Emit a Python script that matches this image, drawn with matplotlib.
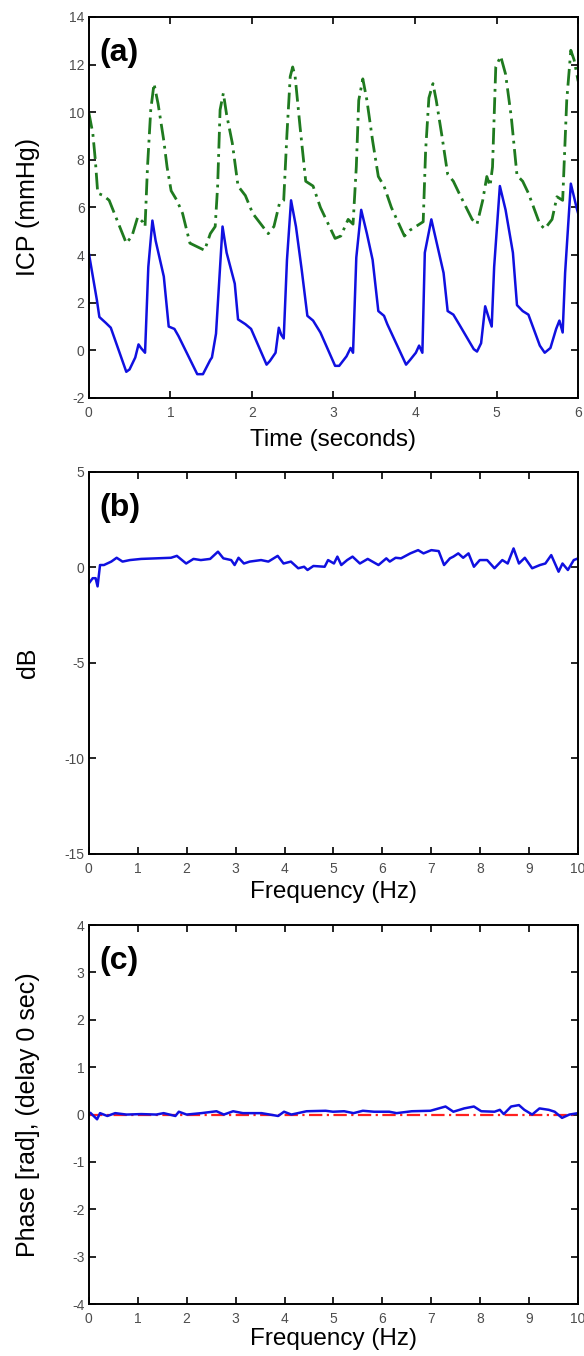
import matplotlib
matplotlib.use("Agg")
import matplotlib.pyplot as plt

OUTPUT_PATH = "out.png"

# (a) ICP waveforms
icp_t = [0.00, 0.10, 0.13, 0.21, 0.27, 0.46, 0.50, 0.57, 0.61, 0.64, 0.69, 0.73, 0.78, 0.82, 0.92,
         0.98, 1.05, 1.10, 1.33, 1.40, 1.49, 1.51, 1.56, 1.64, 1.69, 1.79, 1.83, 1.92, 1.99, 2.18,
         2.22, 2.29, 2.33, 2.36, 2.39, 2.43, 2.48, 2.54, 2.61, 2.68, 2.75, 2.84, 3.02, 3.07, 3.16,
         3.21, 3.24, 3.28, 3.34, 3.41, 3.48, 3.55, 3.62, 3.66, 3.89, 3.94, 4.01, 4.05, 4.09, 4.12,
         4.20, 4.26, 4.35, 4.40, 4.47, 4.54, 4.72, 4.76, 4.81, 4.86, 4.91, 4.94, 4.97, 5.04, 5.11,
         5.20, 5.25, 5.32, 5.39, 5.53, 5.59, 5.66, 5.73, 5.77, 5.81, 5.84, 5.91, 5.98, 6.00]
icp_blue = [4.1, 2.1, 1.4, 1.15, 0.95, -0.9, -0.8, -0.3, 0.25, 0.1, -0.1, 3.5, 5.45, 4.6, 3.1,
            1.0, 0.9, 0.6, -1.0, -1.0, -0.4, -0.3, 0.7, 5.2, 4.1, 2.8, 1.3, 1.1, 0.9, -0.6,
            -0.45, -0.1, 0.95, 0.65, 0.5, 3.8, 6.3, 5.2, 3.4, 1.45, 1.25, 0.75, -0.65, -0.65, -0.25,
            0.1, -0.1, 3.9, 5.9, 4.9, 3.8, 1.65, 1.45, 1.1, -0.6, -0.4, -0.1, 0.2, -0.1, 4.1,
            5.5, 4.6, 3.25, 1.65, 1.5, 1.1, 0.05, -0.05, 0.3, 1.85, 1.3, 1.0, 3.5, 6.9, 5.9,
            4.1, 1.9, 1.65, 1.5, 0.2, -0.1, 0.1, 0.9, 1.25, 0.75, 3.25, 7.0, 6.0, 5.75]

icp_t2 = [0.00, 0.05, 0.08, 0.11, 0.18, 0.25, 0.46, 0.53, 0.60, 0.66, 0.69, 0.72, 0.76, 0.80, 0.85,
          0.92, 0.96, 1.01, 1.08, 1.15, 1.24, 1.42, 1.49, 1.55, 1.58, 1.61, 1.65, 1.69, 1.76, 1.83,
          1.92, 2.01, 2.20, 2.27, 2.34, 2.39, 2.43, 2.47, 2.50, 2.53, 2.59, 2.66, 2.75, 2.84, 3.02,
          3.09, 3.18, 3.24, 3.28, 3.31, 3.36, 3.41, 3.48, 3.55, 3.62, 3.71, 3.87, 3.94, 4.01, 4.10,
          4.13, 4.17, 4.22, 4.26, 4.33, 4.40, 4.47, 4.54, 4.70, 4.76, 4.83, 4.88, 4.92, 4.95, 4.99,
          5.05, 5.11, 5.18, 5.25, 5.32, 5.39, 5.53, 5.59, 5.68, 5.74, 5.81, 5.86, 5.91, 5.95, 6.00]
icp_green = [10.0, 9.1, 8.0, 6.6, 6.5, 6.3, 4.5, 4.8, 5.6, 5.4, 5.2, 7.7, 10.1, 11.2, 10.35,
             8.8, 7.7, 6.7, 6.3, 5.75, 4.5, 4.2, 4.9, 5.2, 6.9, 10.1, 10.8, 9.9, 8.7, 6.9,
             6.5, 5.75, 4.9, 5.2, 6.2, 6.3, 9.1, 11.5, 11.9, 11.5, 9.4, 7.1, 6.9, 6.0, 4.7,
             4.8, 5.5, 5.3, 7.7, 10.5, 11.4, 10.5, 8.8, 7.3, 6.9, 6.0, 4.8, 5.05, 5.2, 5.4,
             8.4, 10.6, 11.2, 10.5, 9.0, 7.4, 7.1, 6.6, 5.5, 5.3, 6.3, 7.3, 6.9, 7.7, 11.9,
             12.35, 11.6, 9.8, 7.35, 7.1, 6.6, 5.3, 5.1, 5.5, 6.45, 6.3, 10.5, 12.6, 12.2, 11.3]

# (b) gain in dB
gain_f = [0.00, 0.08, 0.14, 0.18, 0.23, 0.31, 0.46, 0.57, 0.69, 0.84, 1.07, 1.38, 1.68, 1.80, 1.99,
          2.14, 2.29, 2.48, 2.64, 2.75, 2.91, 2.98, 3.06, 3.17, 3.29, 3.52, 3.67, 3.86, 3.98, 4.13,
          4.28, 4.40, 4.47, 4.59, 4.82, 4.89, 5.01, 5.08, 5.16, 5.28, 5.39, 5.54, 5.70, 5.92, 6.08,
          6.15, 6.27, 6.38, 6.57, 6.73, 6.84, 7.00, 7.15, 7.26, 7.38, 7.45, 7.55, 7.65, 7.76, 7.87,
          7.99, 8.14, 8.29, 8.45, 8.56, 8.68, 8.79, 8.91, 9.06, 9.22, 9.33, 9.45, 9.60, 9.68, 9.79,
          9.91, 10.00]
gain_db = [-0.85, -0.57, -0.57, -1.0, 0.12, 0.12, 0.3, 0.5, 0.3, 0.38, 0.44, 0.47, 0.5, 0.6, 0.2,
           0.44, 0.38, 0.44, 0.82, 0.47, 0.38, 0.12, 0.5, 0.2, 0.3, 0.38, 0.3, 0.6, 0.2, 0.3,
           -0.05, 0.03, -0.14, 0.07, 0.03, 0.38, 0.2, 0.56, 0.12, 0.38, 0.56, 0.2, 0.44, 0.12, 0.47,
           0.3, 0.5, 0.47, 0.73, 0.9, 0.73, 0.9, 0.85, 0.12, 0.47, 0.56, 0.73, 0.5, 0.73, 0.03,
           0.38, 0.38, -0.05, 0.38, 0.2, 0.99, 0.2, 0.5, -0.05, 0.12, 0.2, 0.64, -0.23, 0.2, -0.14,
           0.38, 0.47]

# (c) phase in rad
phase_f = [0.04, 0.17, 0.23, 0.38, 0.54, 0.77, 1.07, 1.38, 1.53, 1.77, 1.84, 2.00, 2.30, 2.61, 2.76,
           2.95, 3.15, 3.53, 3.87, 3.99, 4.14, 4.45, 4.84, 4.99, 5.22, 5.41, 5.60, 5.83, 6.14, 6.29,
           6.60, 6.98, 7.29, 7.45, 7.67, 7.87, 8.02, 8.29, 8.40, 8.48, 8.63, 8.79, 8.90, 9.06, 9.21,
           9.40, 9.52, 9.67, 9.82, 10.00]
phase_rad = [0.03, -0.1, 0.03, -0.03, 0.03, 0.0, 0.01, 0.0, 0.03, -0.03, 0.06, 0.0, 0.03, 0.07, 0.0,
             0.07, 0.03, 0.03, -0.03, 0.06, 0.0, 0.07, 0.08, 0.06, 0.07, 0.03, 0.08, 0.06, 0.06, 0.03,
             0.07, 0.08, 0.17, 0.06, 0.13, 0.17, 0.07, 0.06, 0.1, 0.01, 0.17, 0.2, 0.1, 0.0, 0.13,
             0.1, 0.06, -0.07, 0.0, 0.03]
ref_f = [0, 10]
ref_phase = [0, 0]

TICK_COLOR = "#4d4d4d"
LABEL_X = -0.10


def style_axes(ax, xlabel, ylabel, tag, xpad):
    ax.tick_params(direction="in", top=True, right=True, length=5, width=1.2,
                   labelsize=10, labelcolor=TICK_COLOR)
    ax.tick_params(axis="x", pad=6)
    ax.tick_params(axis="y", pad=3)
    for s in ax.spines.values():
        s.set_linewidth(1.4)
    ax.set_xlabel(xlabel, fontsize=17.5, labelpad=xpad)
    ax.set_ylabel(ylabel, fontsize=18)
    ax.yaxis.set_label_coords(LABEL_X, 0.5)
    ax.text(0.022, 0.945, tag, transform=ax.transAxes, fontsize=23,
            fontweight="bold", va="top")


def main():
    plt.rcParams["font.family"] = ["Liberation Sans", "DejaVu Sans"]
    plt.rcParams["axes.unicode_minus"] = False
    fig = plt.figure(figsize=(5.84, 13.56), dpi=100)

    ax_a = fig.add_axes([0.152, 0.7065, 0.838, 0.281])
    ax_b = fig.add_axes([0.152, 0.3705, 0.838, 0.2815])
    ax_c = fig.add_axes([0.152, 0.0383, 0.838, 0.2795])

    # (a)
    ax_a.plot(icp_t2, icp_green, color="#1f7a1f", lw=2.0, linestyle=(0, (6, 2, 1, 2)))
    ax_a.plot(icp_t, icp_blue, color="#1010e0", lw=1.8)
    ax_a.set_xlim(0, 6)
    ax_a.set_ylim(-2, 14)
    ax_a.set_xticks(range(0, 7))
    ax_a.set_yticks(range(-2, 15, 2))
    style_axes(ax_a, "Time (seconds)", "ICP (mmHg)", "(a)", 6)

    # (b)
    ax_b.plot(gain_f, gain_db, color="#1010e0", lw=1.8)
    ax_b.set_xlim(0, 10)
    ax_b.set_ylim(-15, 5)
    ax_b.set_xticks(range(0, 11))
    ax_b.set_yticks([-15, -10, -5, 0, 5])
    style_axes(ax_b, "Frequency (Hz)", "dB", "(b)", 4)

    # (c)
    ax_c.plot(ref_f, ref_phase, color="#ff2020", lw=1.6, linestyle=(0, (6, 2, 1, 2)))
    ax_c.plot(phase_f, phase_rad, color="#1010e0", lw=1.8)
    ax_c.set_xlim(0, 10)
    ax_c.set_ylim(-4, 4)
    ax_c.set_xticks(range(0, 11))
    ax_c.set_yticks(range(-4, 5))
    style_axes(ax_c, "Frequency (Hz)", "Phase [rad], (delay 0 sec)", "(c)", 1.5)

    fig.savefig(OUTPUT_PATH, dpi=100)
    plt.close(fig)


if __name__ == "__main__":
    main()
